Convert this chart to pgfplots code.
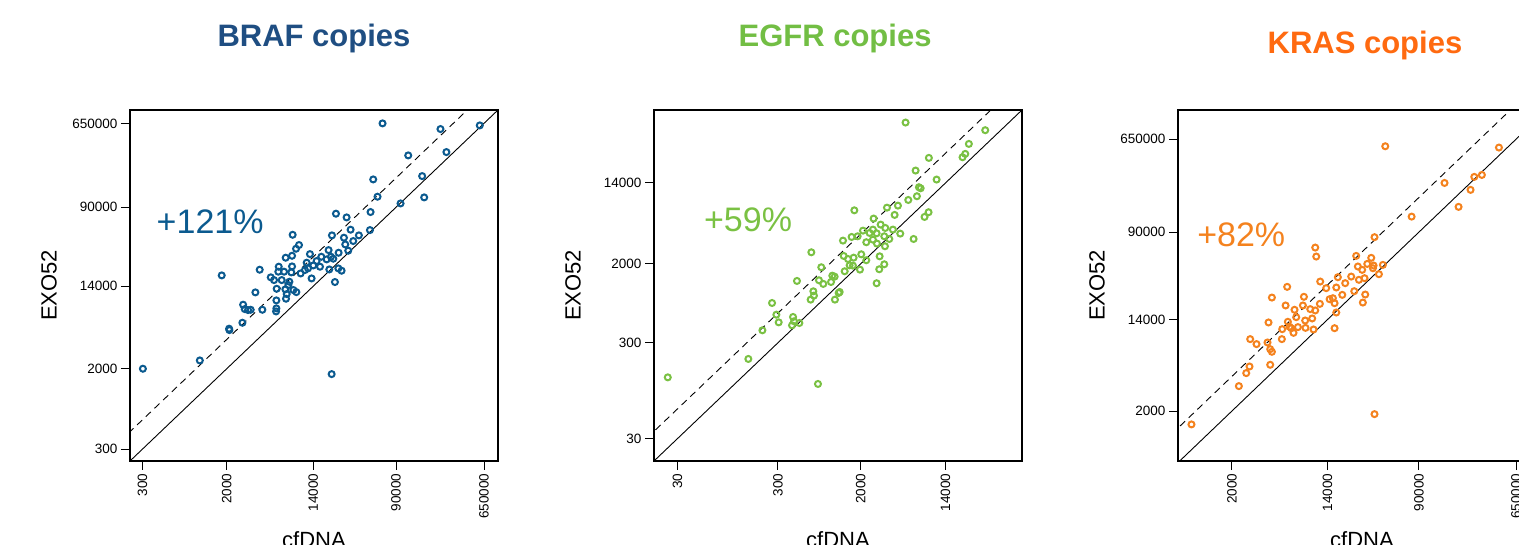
\documentclass[border=0pt]{standalone}
\usepackage{fontspec}
\setmainfont{Liberation Sans}
\usepackage{pgfplots}
\pgfplotsset{compat=1.18}
\definecolor{braftitle}{HTML}{1F4E82}
\definecolor{brafpt}{HTML}{0B5A8F}
\definecolor{egfrtitle}{HTML}{72BE44}
\definecolor{egfrpt}{HTML}{7AC143}
\definecolor{krastitle}{HTML}{FF6A10}
\definecolor{kraspt}{HTML}{F4821E}

% values are log10 of copies; ticks relabelled with the copy numbers
\pgfplotsset{
  rplot/.style={
    scale only axis, width=368pt, height=351pt,
    axis line style={black, line width=1.2pt},
    tick align=outside, major tick length=9pt,
    tick style={black, line width=0.9pt},
    xtick pos=bottom, ytick pos=left,
    ticklabel style={font=\fontsize{13.5}{16}\selectfont},
    xticklabel style={rotate=90, anchor=east},
    label style={font=\fontsize{22}{26}\selectfont},
    xlabel=cfDNA, ylabel=EXO52,
    xlabel style={at={(axis description cs:0.5,-0.225)}, anchor=center},
    ylabel style={at={(axis description cs:-0.22,0.5)}, anchor=center},
    title style={font=\fontsize{31}{36}\selectfont\bfseries, anchor=center},
    clip=true,
  },
  pts/.style={only marks, mark=o, mark size=3pt, line width=2pt, color=#1},
}

\begin{document}
\begin{tikzpicture}[x=1pt,y=1pt]
\useasboundingbox (0,0) rectangle (1519,544);

% ---------------- BRAF
\begin{axis}[rplot, at={(130pt,83pt)}, anchor=south west,
  xmin=2.355, xmax=5.95, ymin=2.355, ymax=5.95,
  xtick={2.4771,3.3010,4.1461,4.9542,5.8129},
  xticklabels={300,2000,14000,90000,650000},
  ytick={2.4771,3.3010,4.1461,4.9542,5.8129},
  yticklabels={300,2000,14000,90000,650000},
  title={\textcolor{braftitle}{BRAF copies}},
  title style={at={(axis description cs:0.5,1.186)}}]
\addplot[black, line width=0.9pt] coordinates {(2,2) (7,7)};
\addplot[black, line width=0.9pt, dash pattern=on 7pt off 5pt] coordinates {(2,2.30) (7,7.30)};
\addplot[pts=brafpt] coordinates {
(4.822,5.813) (5.388,5.755) (5.772,5.792) (5.073,5.485) (5.446,5.519)
(4.731,5.239) (5.209,5.273) (4.773,5.062) (5.229,5.055) (4.998,4.993)
(4.367,4.888) (4.471,4.850) (4.705,4.905) (4.510,4.724) (4.699,4.720)
(3.944,4.672) (4.328,4.666) (4.591,4.666) (4.445,4.642) (4.536,4.608)
(4.458,4.573) (4.006,4.567) (3.977,4.529) (4.487,4.509) (4.113,4.474)
(4.295,4.515) (4.393,4.488) (3.876,4.437) (3.938,4.457) (4.224,4.447)
(4.318,4.447) (4.341,4.427) (4.276,4.420) (4.178,4.403) (4.081,4.386)
(4.146,4.358) (3.808,4.345) (3.938,4.348) (3.622,4.314) (3.251,4.256)
(4.094,4.328) (4.211,4.345) (4.302,4.317) (4.390,4.328) (4.422,4.304)
(3.860,4.294) (3.931,4.287) (4.022,4.276) (3.730,4.236) (3.762,4.208)
(3.837,4.208) (3.912,4.191) (4.129,4.225) (4.357,4.188) (3.788,4.119)
(3.873,4.113) (3.951,4.106) (3.980,4.085) (3.580,4.082) (3.886,4.065)
(3.879,4.017) (3.785,4.000) (3.460,3.956) (3.476,3.911) (3.508,3.901)
(3.534,3.904) (3.648,3.904) (3.785,3.918) (3.782,3.887) (3.453,3.771)
(3.323,3.710) (3.326,3.696) (3.037,3.385) (2.481,3.300) (4.325,3.245)
(3.804,4.294) (3.902,4.157) (4.064,4.311)
};
\node[text=brafpt, font=\fontsize{34}{40}\selectfont] at (axis cs:3.138,4.806) {+121\%};
\end{axis}

% ---------------- EGFR
\begin{axis}[rplot, at={(654pt,83pt)}, anchor=south west,
  xmin=1.244, xmax=4.907, ymin=1.244, ymax=4.907,
  xtick={1.4771,2.4771,3.3010,4.1461},
  xticklabels={30,300,2000,14000},
  ytick={1.4771,2.4771,3.3010,4.1461},
  yticklabels={30,300,2000,14000},
  title={\textcolor{egfrtitle}{EGFR copies}},
  title style={at={(axis description cs:0.492,1.186)}}]
\addplot[black, line width=0.9pt] coordinates {(1,1) (6,6)};
\addplot[black, line width=0.9pt, dash pattern=on 7pt off 5pt] coordinates {(1,1.31) (6,6.31)};
\addplot[pts=egfrpt] coordinates {
(3.748,4.776) (4.541,4.696) (4.378,4.553) (3.980,4.407) (4.315,4.414)
(4.342,4.449) (3.848,4.275) (4.057,4.181) (3.881,4.101) (3.898,4.090)
(3.861,4.007) (3.775,3.968) (3.672,3.909) (3.563,3.888) (3.238,3.860)
(3.639,3.812) (3.937,3.791) (3.977,3.840) (3.430,3.774) (3.500,3.711)
(3.324,3.648) (3.423,3.659) (3.546,3.676) (3.622,3.659) (3.695,3.617)
(3.460,3.620) (3.536,3.589) (3.586,3.561) (3.828,3.561) (3.211,3.582)
(3.271,3.589) (3.125,3.544) (3.357,3.527) (3.463,3.513) (3.543,3.485)
(3.132,3.384) (3.231,3.366) (3.307,3.401) (3.357,3.339) (3.490,3.380)
(2.810,3.422) (2.909,3.266) (3.191,3.286) (3.224,3.283) (3.142,3.224)
(3.294,3.241) (3.486,3.245) (3.536,3.297) (3.460,3.099) (2.667,3.123)
(2.886,3.130) (2.929,3.092) (3.006,3.112) (3.019,3.178) (3.042,3.168)
(2.830,3.015) (2.836,2.970) (2.803,2.928) (3.045,2.928) (3.082,2.998)
(3.092,3.008) (2.419,2.893) (2.462,2.771) (2.485,2.691) (2.628,2.747)
(2.638,2.702) (2.618,2.660) (2.691,2.684) (2.323,2.608) (2.183,2.309)
(1.381,2.117) (2.876,2.048) (3.175,3.352) (3.423,3.554) (3.390,3.624)
};
\node[text=egfrpt, font=\fontsize{34}{40}\selectfont] at (axis cs:2.180,3.756) {+59\%};
\end{axis}

% ---------------- KRAS
\begin{axis}[rplot, at={(1178pt,83pt)}, anchor=south west,
  xmin=2.825, xmax=6.078, ymin=2.840, ymax=6.083,
  xtick={3.3010,4.1461,4.9542,5.8129},
  xticklabels={2000,14000,90000,650000},
  ytick={3.3010,4.1461,4.9542,5.8129},
  yticklabels={2000,14000,90000,650000},
  title={\textcolor{krastitle}{KRAS copies}},
  title style={at={(axis description cs:0.508,1.167)}}]
\addplot[black, line width=0.9pt] coordinates {(2,2) (7,7)};
\addplot[black, line width=0.9pt, dash pattern=on 7pt off 5pt] coordinates {(2,2.32) (7,7.32)};
\addplot[pts=kraspt] coordinates {
(4.657,5.748) (5.662,5.736) (5.181,5.409) (5.444,5.465) (5.511,5.483)
(5.411,5.345) (5.305,5.188) (4.890,5.098) (4.562,4.908) (4.038,4.812)
(4.047,4.729) (4.400,4.735) (4.533,4.717) (4.415,4.637) (4.498,4.661)
(4.554,4.646) (4.636,4.652) (4.601,4.566) (4.453,4.606) (4.356,4.544)
(4.238,4.538) (4.303,4.483) (4.424,4.514) (4.474,4.529) (4.082,4.498)
(4.135,4.437) (3.790,4.449) (3.655,4.350) (3.938,4.357) (4.383,4.409)
(4.480,4.378) (4.459,4.304) (4.224,4.443) (4.277,4.375) (4.165,4.335)
(4.209,4.298) (3.776,4.277) (3.855,4.237) (3.929,4.277) (3.994,4.243)
(4.038,4.231) (4.079,4.292) (4.224,4.212) (3.625,4.120) (3.796,4.126)
(3.870,4.169) (3.949,4.138) (4.011,4.157) (3.746,4.058) (3.811,4.080)
(3.846,4.024) (3.885,4.077) (3.952,4.070) (4.023,4.055) (3.743,3.966)
(4.209,4.067) (3.463,3.966) (3.519,3.920) (3.616,3.935) (3.640,3.873)
(3.655,3.849) (3.457,3.713) (3.428,3.652) (3.640,3.729) (3.363,3.532)
(2.944,3.178) (4.562,3.273) (4.194,4.344) (4.548,4.621) (3.826,4.067)
};
\node[text=kraspt, font=\fontsize{34}{40}\selectfont] at (axis cs:3.384,4.929) {+82\%};
\end{axis}
\end{tikzpicture}
\end{document}
